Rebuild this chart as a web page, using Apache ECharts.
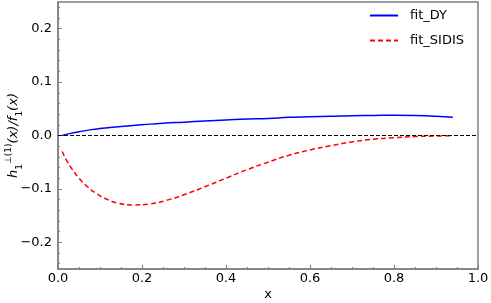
<!DOCTYPE html>
<html><head><meta charset="utf-8">
<script src="https://cdn.jsdelivr.net/npm/echarts@6/dist/echarts.min.js"></script>
<style>html,body{margin:0;padding:0;background:#fff}#c{width:491px;height:303px}</style>
</head><body><div id="c"></div>
<script>
const xDY = [0.01,0.03,0.05,0.08,0.1,0.15,0.2,0.25,0.3,0.35,0.4,0.45,0.5,0.55,0.6,0.65,0.7,0.75,0.8,0.85,0.9,0.94];
const yDY = [0.0,0.004,0.007,0.011,0.013,0.017,0.020,0.023,0.025,0.027,0.029,0.031,0.032,0.034,0.035,0.036,0.037,0.0375,0.038,0.0375,0.036,0.034];
const xSIDIS = [0.01,0.02,0.03,0.05,0.07,0.09,0.11,0.14,0.18,0.22,0.26,0.3,0.35,0.4,0.45,0.5,0.55,0.6,0.65,0.7,0.75,0.8,0.85,0.9,0.94];
const ySIDIS = [-0.03,-0.046,-0.059,-0.08,-0.096,-0.108,-0.117,-0.126,-0.130,-0.128,-0.121,-0.111,-0.096,-0.080,-0.064,-0.050,-0.037,-0.027,-0.019,-0.012,-0.007,-0.004,-0.002,-0.001,-0.0005];
const yMajor = [-0.2,-0.1,0,0.1,0.2];
const yMinor = [-0.24,-0.22,-0.18,-0.16,-0.14,-0.12,-0.08,-0.06,-0.04,-0.02,0.02,0.04,0.06,0.08,0.12,0.14,0.16,0.18,0.22,0.24];
const seriesNames = ['fit_DY','fit_SIDIS'];

const FONT = 'DejaVu Sans';
const gray = '#808080';
const chart = echarts.init(document.getElementById('c'));
chart.setOption({
  animation:false,
  textStyle:{fontFamily:FONT},
  grid:{left:58,right:13,top:2,bottom:34,show:true,borderColor:gray,borderWidth:1.5,containLabel:false,outerBoundsMode:'none'},
  legend:{orient:'vertical',right:22,top:4,itemGap:12,itemWidth:28,itemHeight:10,
    itemStyle:{opacity:0},
    textStyle:{fontFamily:FONT,fontSize:13,color:'#000',padding:[0,0,0,7]},data:seriesNames},
  xAxis:{type:'value',min:0,max:1,interval:0.2,
    name:'x',nameLocation:'middle',nameGap:19,nameMoveOverlap:false,nameTextStyle:{fontFamily:FONT,fontSize:13,color:'#000'},
    axisLine:{onZero:false,lineStyle:{color:gray,width:1.5}},
    axisTick:{inside:true,length:4,lineStyle:{color:gray}},
    minorTick:{show:true,splitNumber:4,length:2,lineStyle:{color:gray}},
    axisLabel:{fontFamily:FONT,fontSize:13,color:'#000',margin:3,formatter:v=>v.toFixed(1)},
    splitLine:{show:false}},
  yAxis:[{type:'value',min:-0.25,max:0.25,
    name:'{h|h}{sub|1}{sup|⊥(1)}{n|(x)/}{f|f}{sub|1}{n|(x)}',
    nameLocation:'middle',nameGap:34,nameRotate:90,nameMoveOverlap:false,
    nameTextStyle:{fontFamily:FONT,fontSize:13,color:'#000',rich:{
      h:{fontFamily:FONT,fontStyle:'italic',fontSize:13,lineHeight:20,verticalAlign:'middle'},
      f:{fontFamily:FONT,fontStyle:'italic',fontSize:13,lineHeight:20,verticalAlign:'middle'},
      n:{fontFamily:FONT,fontStyle:'italic',fontSize:13,lineHeight:20,verticalAlign:'middle'},
      sub:{fontFamily:FONT,fontSize:9,lineHeight:20,verticalAlign:'bottom'},
      sup:{fontFamily:FONT,fontSize:9,lineHeight:20,verticalAlign:'top'}}},
    axisLine:{onZero:false,lineStyle:{color:gray,width:1.5}},
    axisTick:{inside:true,length:4,lineStyle:{color:gray},customValues:yMajor},
    axisLabel:{fontFamily:FONT,fontSize:13,color:'#000',margin:6,customValues:yMajor,
      formatter:v=>(v<0?'\u2212'+(-v).toFixed(1):v.toFixed(1))},
    splitLine:{show:false}},
   {type:'value',min:-0.25,max:0.25,position:'left',
    axisLine:{show:false},
    axisTick:{show:true,inside:true,length:2,lineStyle:{color:gray},customValues:yMinor},
    axisLabel:{show:false},splitLine:{show:false}}],
  series:[
    {name:seriesNames[0],type:'line',symbol:'none',smooth:true,
     data:xDY.map((x,i)=>[x,yDY[i]]),lineStyle:{color:'#0000ff',width:1.5},itemStyle:{color:'#0000ff'},
     markLine:{silent:true,symbol:'none',label:{show:false},
       lineStyle:{color:'#000',type:[4,2],width:1},data:[{yAxis:0}]}},
    {name:seriesNames[1],type:'line',symbol:'none',smooth:true,
     data:xSIDIS.map((x,i)=>[x,ySIDIS[i]]),lineStyle:{color:'#ff0000',width:1.5,type:[5,3]},itemStyle:{color:'#ff0000'}}
  ]
});
</script></body></html>
